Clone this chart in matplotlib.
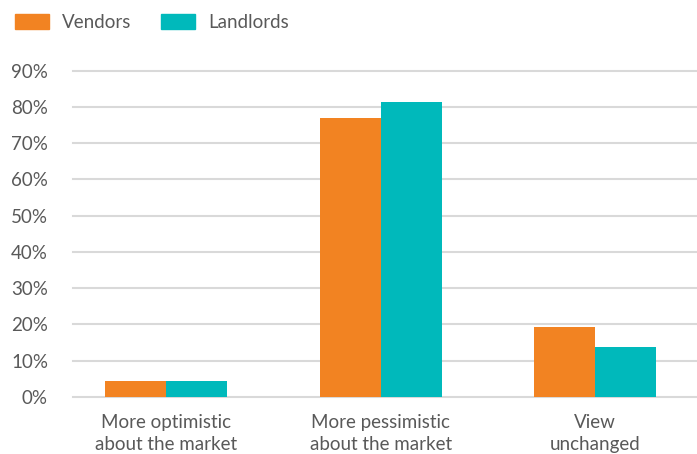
import numpy as np
import matplotlib.pyplot as plt
from matplotlib.patches import Patch

categories = ["More optimistic\nabout the market", "More pessimistic\nabout the market", "View\nunchanged"]
vendors = [4.5, 77.0, 19.3]
landlords = [4.5, 81.3, 13.8]
yticks = [0, 10, 20, 30, 40, 50, 60, 70, 80, 90]

orange = "#F28322"
teal = "#00B9BB"
text_col = "#595959"

plt.rcParams['font.family'] = ['Lato', 'DejaVu Sans']

fig = plt.figure(figsize=(6.97, 4.54), dpi=100)
ax = fig.add_axes([73 / 697, 57 / 454, 1 - 73 / 697, (397 - 70.5) / 454])

x = np.arange(len(categories))
w = 0.284
ax.bar(x - w / 2, vendors, width=w, color=orange, zorder=3)
ax.bar(x + w / 2, landlords, width=w, color=teal, zorder=3)

ax.set_xlim(-0.434, 2.475)
ax.set_ylim(0, 90)
ax.set_yticks(yticks)
ax.set_yticklabels([f"{v}%" for v in yticks])
ax.set_xticks(x)
ax.set_xticklabels(categories, linespacing=1.3)
ax.tick_params(axis='y', length=0, pad=18, labelsize=13.5, labelcolor=text_col)
ax.tick_params(axis='x', length=0, pad=12.5, labelsize=13.5, labelcolor=text_col)
ax.grid(axis='y', color='#D9D9D9', linewidth=1.5, zorder=0)
for gl in ax.get_ygridlines():
    gl.set_clip_on(False)
for s in ax.spines.values():
    s.set_visible(False)

handles = [Patch(color=orange, label="Vendors"), Patch(color=teal, label="Landlords")]
fig.legend(handles=handles, loc='upper left', bbox_to_anchor=(15 / 697, 1 - 14 / 454), ncol=2,
           frameon=False, fontsize=13.5, labelcolor=text_col, handlelength=1.8,
           handleheight=0.85, handletextpad=0.7, columnspacing=1.6,
           borderpad=0, borderaxespad=0)

fig.savefig("out.png", dpi=100)
